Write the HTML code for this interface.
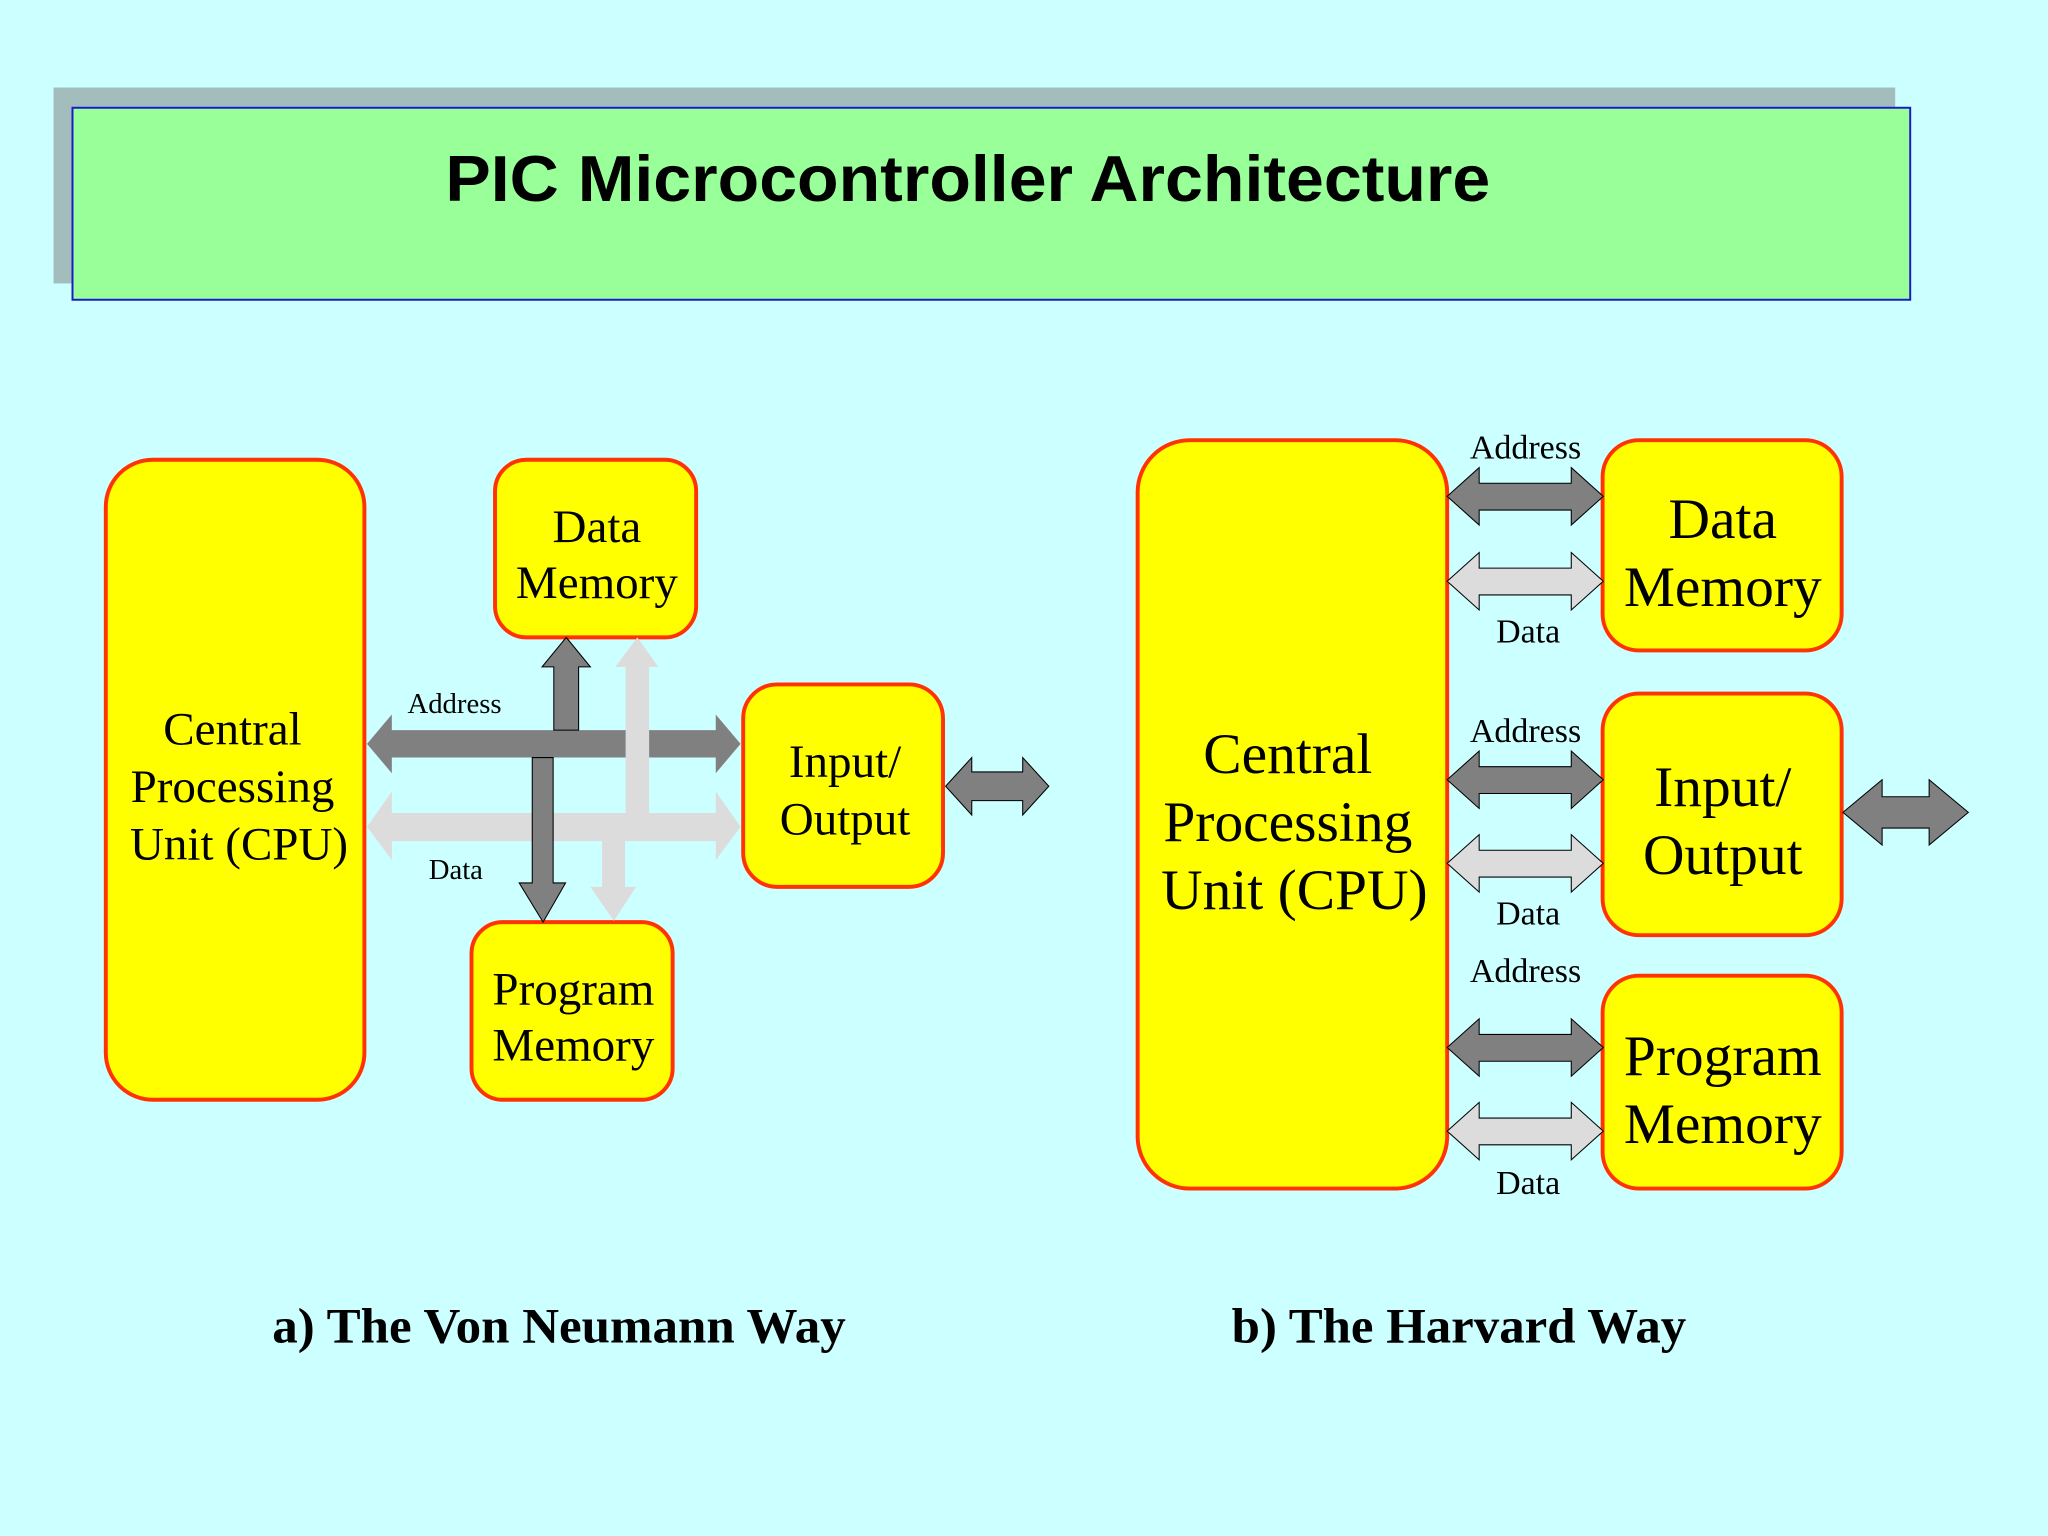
<!DOCTYPE html>
<html><head><meta charset="utf-8"><style>
html,body{margin:0;padding:0;background:#ccffff;}
svg{display:block;}
</style></head><body>
<svg width="2048" height="1536" viewBox="0 0 1568 1176" xmlns="http://www.w3.org/2000/svg">
<rect x="0" y="0" width="1568" height="1176" fill="#ccffff"/>
<rect x="41" y="67" width="1410" height="150" fill="#a3bdbd"/>
<rect x="55.5" y="82.5" width="1407" height="147" fill="#99ff99" stroke="#1a1acc" stroke-width="1.5"/>
<text x="741" y="154" font-family="Liberation Sans, sans-serif" font-weight="bold" font-size="50" text-anchor="middle" textLength="800" lengthAdjust="spacingAndGlyphs">PIC Microcontroller Architecture</text>

<g fill="#ffff00" stroke="#ff3300" stroke-width="3">
<rect x="81" y="352" width="198" height="490" rx="36"/>
<rect x="379" y="352" width="154" height="136" rx="24"/>
<rect x="361" y="706" width="154" height="136" rx="24"/>
<rect x="569" y="524" width="153" height="155" rx="26"/>
<rect x="871" y="337" width="237" height="573" rx="40"/>
<rect x="1227" y="337" width="183" height="161" rx="28"/>
<rect x="1227" y="531" width="183" height="185" rx="28"/>
<rect x="1227" y="747" width="183" height="163" rx="28"/>
</g>

<polygon fill="#808080" points="281,569.5 300,547 300,559 548,559 548,547 567,569.5 548,592 548,580 300,580 300,592"/>
<polygon fill="#808080" stroke="#000" stroke-width="0.8" points="433.5,488 452,510.6 443,510.6 443,559 424,559 424,510.6 415,510.6"/>
<polygon fill="#dcdcdc" points="488,488 504,510.6 497,510.6 497,623 479,623 479,510.6 471,510.6"/>
<polygon fill="#dcdcdc" points="281,633 300,606 300,622.5 548,622.5 548,606 567,633 548,658.5 548,644 300,644 300,658.5"/>
<polygon fill="#dcdcdc" points="461,644 478.5,644 478.5,679 487,679 470,705 452,679 461,679"/>
<polygon fill="#808080" stroke="#000" stroke-width="0.8" points="407.5,580 423.5,580 423.5,676 433,676 415.8,706 397.5,676 407.5,676"/>
<polygon fill="#808080" stroke="#000" stroke-width="0.8" points="724,602 744,580 744,591 783,591 783,580 803,602 783,624 783,613 744,613 744,624"/>

<g stroke="#000" stroke-width="0.8">
<polygon fill="#808080" points="1108,380 1132.5,358 1132.5,370 1203,370 1203,358 1227.5,380 1203,402 1203,390.5 1132.5,390.5 1132.5,402"/>
<polygon fill="#dcdcdc" points="1108,445 1132.5,423 1132.5,435 1203,435 1203,423 1227.5,445 1203,467 1203,455.5 1132.5,455.5 1132.5,467"/>
<polygon fill="#808080" points="1108,597 1132.5,575 1132.5,587 1203,587 1203,575 1227.5,597 1203,619 1203,607.5 1132.5,607.5 1132.5,619"/>
<polygon fill="#dcdcdc" points="1108,661 1132.5,639 1132.5,651 1203,651 1203,639 1227.5,661 1203,683 1203,671.5 1132.5,671.5 1132.5,683"/>
<polygon fill="#808080" points="1108,802 1132.5,780 1132.5,792 1203,792 1203,780 1227.5,802 1203,824 1203,812.5 1132.5,812.5 1132.5,824"/>
<polygon fill="#dcdcdc" points="1108,866 1132.5,844 1132.5,856 1203,856 1203,844 1227.5,866 1203,888 1203,876.5 1132.5,876.5 1132.5,888"/>
<polygon fill="#808080" points="1411,622 1441,597 1441,610 1477,610 1477,597 1507,622 1477,647 1477,634 1441,634 1441,647"/>
</g>

<g font-family="Liberation Serif, serif" text-anchor="middle" fill="#000">
<g font-size="36">
<text x="178" y="570">Central</text>
<text x="178" y="614">Processing</text>
<text x="183" y="658">Unit (CPU)</text>
<text x="457" y="415">Data</text>
<text x="457" y="458">Memory</text>
<text x="439" y="769">Program</text>
<text x="439" y="812">Memory</text>
<text x="647" y="595">Input/</text>
<text x="647" y="639">Output</text>
</g>
<g font-size="44">
<text x="986" y="592">Central</text>
<text x="986" y="644">Processing</text>
<text x="991" y="696">Unit (CPU)</text>
<text x="1319" y="412">Data</text>
<text x="1319" y="464">Memory</text>
<text x="1319" y="617">Input/</text>
<text x="1319" y="669">Output</text>
<text x="1319" y="823">Program</text>
<text x="1319" y="875">Memory</text>
</g>
<g font-size="22">
<text x="348" y="546">Address</text>
<text x="349" y="673">Data</text>
</g>
<g font-size="26">
<text x="1168" y="351">Address</text>
<text x="1170" y="492">Data</text>
<text x="1168" y="568">Address</text>
<text x="1170" y="708">Data</text>
<text x="1168" y="752">Address</text>
<text x="1170" y="914">Data</text>
</g>
<g font-size="38" font-weight="bold">
<text x="428" y="1028" textLength="439" lengthAdjust="spacingAndGlyphs">a) The Von Neumann Way</text>
<text x="1117" y="1028" textLength="348" lengthAdjust="spacingAndGlyphs">b) The Harvard Way</text>
</g>
</g>
</svg>
</body></html>
